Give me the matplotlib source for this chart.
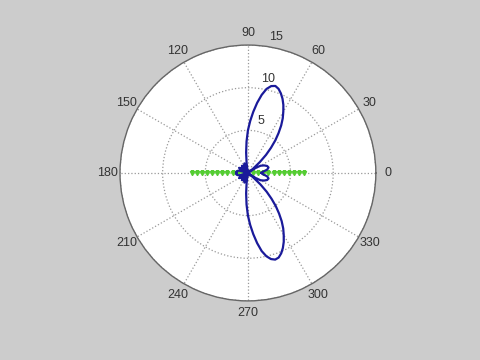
import numpy as np
import matplotlib
matplotlib.use('Agg')
import matplotlib.pyplot as plt

plt.rcParams['font.family'] = ['Liberation Sans', 'DejaVu Sans']

# array pattern (angle in degrees, magnitude)
pattern_deg = [0, 5, 10, 15, 20, 25, 30, 33, 36, 38, 40, 42.5, 45, 47.5, 50, 52.5, 55,
               57.5, 60, 62.5, 65, 67.5, 70, 72.5, 75, 77.5, 80, 82.5, 85, 87.5, 90,
               92.5, 95, 97.5, 100, 105, 110, 115, 120, 125, 130, 135, 140, 145, 150,
               155, 160, 165, 170, 175, 180, 185, 190, 195, 200, 205, 210, 215, 220,
               225, 230, 235, 240, 245, 250, 255, 260, 262.5, 265, 267.5, 270, 272.5,
               275, 277.5, 280, 282.5, 285, 287.5, 290, 292.5, 295, 297.5, 300, 302.5,
               305, 307.5, 310, 312.5, 315, 317.5, 320, 322, 324, 327, 330, 335, 340,
               345, 350, 355, 360]
pattern_r = [1.6, 1.8, 2.3, 2.5, 2.4, 2.1, 1.7, 1.1, 0.3, 0.1, 0.8, 1.9, 3.0, 4.0, 5.0,
             5.9, 6.8, 7.6, 8.3, 9.0, 9.6, 10.1, 10.5, 10.7, 10.55, 10.1, 9.3, 8.3, 7.2,
             6.1, 5.0, 3.7, 2.4, 1.2, 0.2, 0.9, 1.2, 1.0, 0.3, 0.8, 1.1, 0.8, 0.2, 1.0,
             1.2, 0.7, 0.3, 1.1, 1.3, 1.4, 1.3, 1.4, 1.3, 1.1, 0.3, 0.7, 1.2, 1.0, 0.2,
             0.8, 1.1, 0.8, 0.3, 1.0, 1.2, 0.9, 0.2, 1.2, 2.4, 3.7, 5.0, 6.1, 7.2, 8.3,
             9.3, 10.0, 10.45, 10.65, 10.55, 10.2, 9.7, 9.1, 8.4, 7.7, 6.9, 6.0, 5.1,
             4.1, 3.1, 2.0, 0.8, 0.1, 0.3, 1.1, 1.7, 2.1, 2.4, 2.5, 2.3, 1.8, 1.6]

# element positions along the horizontal axis
elem_left = [6.6, 6.0, 5.4, 4.8, 4.2, 3.6, 3.0, 2.4, 1.8, 1.2, 0.6]
elem_right = [0.6, 1.2, 1.8, 2.4, 3.0, 3.6, 4.2, 4.8, 5.4, 6.0, 6.6]

angle_ticks = list(range(0, 360, 30))
radial_ticks = [5, 10, 15]

fig = plt.figure(figsize=(4.8, 3.6), dpi=100, facecolor='#cccccc')
ax = fig.add_axes([0.25, 0.164, 0.533, 0.711], projection='polar')
ax.set_facecolor('white')

ax.plot(np.deg2rad(pattern_deg), pattern_r, color='#1a1a9a', lw=1.6, zorder=3)

ax.plot([np.pi] * len(elem_left), elem_left, color='#a8f090', lw=1.2,
        marker='v', ms=3, mfc='#55cc33', mec='#55cc33', zorder=2)
ax.plot([0.0] * len(elem_right), elem_right, color='#a8f090', lw=1.2,
        marker='v', ms=3, mfc='#55cc33', mec='#55cc33', zorder=2)

ax.set_rlim(0, 15)
ax.set_yticks(radial_ticks)
ax.set_yticklabels([])
ax.set_thetagrids(angle_ticks, [str(a) for a in angle_ticks])
ax.tick_params(axis='x', pad=-1.5, labelsize=9, labelcolor='#333333')
ax.grid(True, linestyle=':', color='#999999', lw=0.9)
ax.spines['polar'].set_color('#666666')
ax.spines['polar'].set_linewidth(1.0)

for r in radial_ticks:
    ax.annotate(str(r), xy=(np.deg2rad(80), r), xytext=(4, 7),
                textcoords='offset points', ha='center', va='center',
                fontsize=9, color='#333333')

fig.savefig('out.png', dpi=100, facecolor=fig.get_facecolor())
